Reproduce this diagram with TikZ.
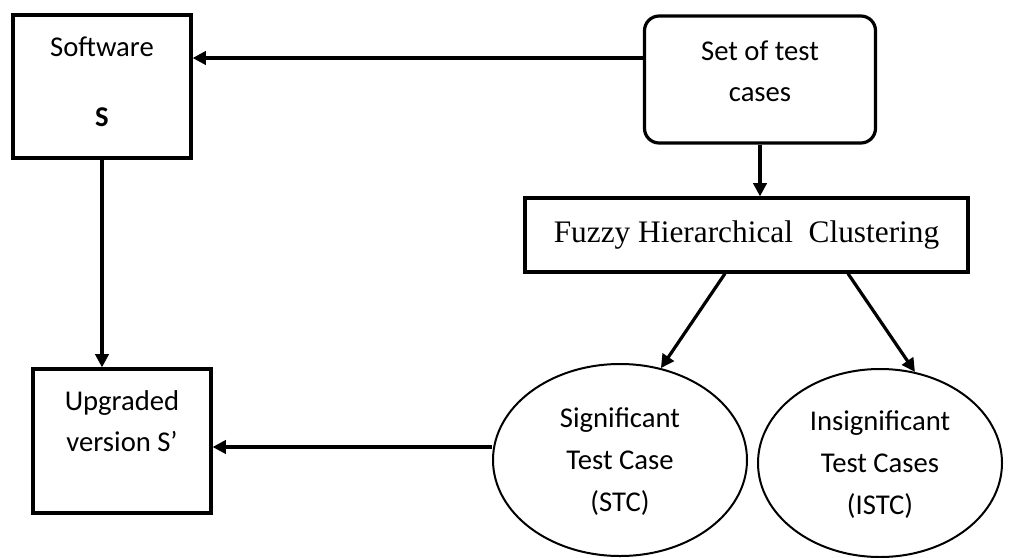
\documentclass[tikz,border=0pt]{standalone}
\usepackage{fontspec}
\setmainfont{Carlito}
\newfontfamily\timesfont{Liberation Serif}
\usetikzlibrary{positioning,arrows.meta,shapes.geometric}

\begin{document}
\begin{tikzpicture}[
  x=0.75pt, y=-0.75pt,
  box/.style={draw, line width=2.4pt, align=center, inner sep=0pt,
              font=\fontsize{21.5}{30.5}\selectfont},
  roundbox/.style={box, rounded corners=11pt},
  oval/.style={draw, ellipse, line width=1.5pt, align=center, inner sep=0pt,
               text depth=0pt, font=\fontsize{21.5}{31.5}\selectfont},
  arrow/.style={-{Triangle[length=10pt,width=10pt]}, line width=2.4pt}
]
\useasboundingbox (0,0) rectangle (1014,557);
\node[box, minimum width=133.5pt, minimum height=107.25pt, text depth=7pt] (soft) at (102,86.5)
  {Software\\[22pt]\textbf{S}};
\node[roundbox, minimum width=173.25pt, minimum height=95.25pt, text depth=12pt] (tests) at (760,79.5)
  {Set of test\\cases};
\node[box, minimum width=332.25pt, minimum height=55.5pt, font=\timesfont\fontsize{23.5}{28}\selectfont] (fuzzy) at (746.5,235)
  {Fuzzy Hierarchical\ \ Clustering};
\node[box, minimum width=133.5pt, minimum height=108pt, text depth=30pt] (upg) at (122,441)
  {Upgraded\\version S’};
\node[oval, minimum width=190.5pt, minimum height=144pt] (stc) at (620,460)
  {Significant\\Test Case\\(STC)};
\node[oval, minimum width=183pt, minimum height=141pt] (istc) at (880,463)
  {Insignificant\\Test Cases\\(ISTC)};
\draw[arrow] (tests.west |- 0,58) -- (soft.east |- 0,58);
\draw[arrow] (soft.south) -- (soft.south |- upg.north);
\draw[arrow] (tests.south) -- (tests.south |- fuzzy.north);
\draw[arrow] (fuzzy.south -| 725,0) -- (stc.66);
\draw[arrow] (fuzzy.south -| 848,0) -- (istc.69);
\draw[arrow] (stc.west |- 0,447) -- (upg.east |- 0,447);
\end{tikzpicture}
\end{document}
